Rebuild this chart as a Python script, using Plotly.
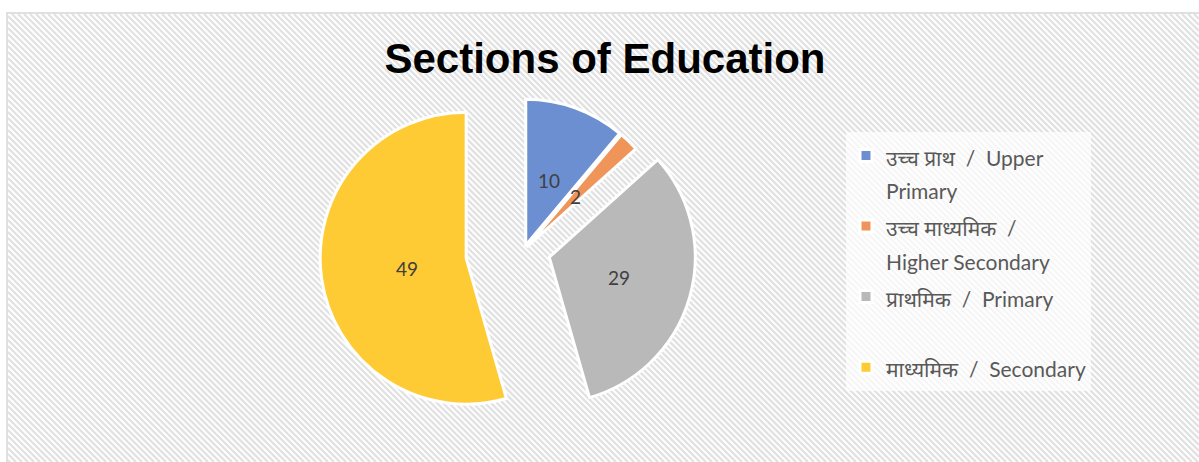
import numpy as np
import plotly.graph_objects as go

# ---- data ----
labels_hi = ["उच्च प्राथ", "उच्च माध्यमिक", "प्राथमिक", "माध्यमिक"]
labels_en = ["Upper Primary", "Higher Secondary", "Primary", "Secondary"]
values = [10, 2, 29, 49]

# ---- style ----
W, H = 1199, 462
colors = ["#6b8fd1", "#f0955a", "#b9b9b9", "#ffcb35"]
pulls = [0.035, 0.035, 0.18, 0.4]
label_radius = [0.47, 0.47, 0.50, 0.50]   # radial position of value labels (fraction of r)
cx, cy, r = 524.0, 250.0, 146.0           # pie centre / radius in pixels

# legend names, wrapped over two lines each
legend_names = [
    f"{labels_hi[0]}  /  Upper<br>Primary",
    f"{labels_hi[1]}  /<br>{labels_en[1]}",
    f"{labels_hi[2]}  /  {labels_en[2]}<br>\u00a0",
    f"{labels_hi[3]}  /  {labels_en[3]}",
]
span = '<span style="font-size:21px">'
legend_names = [span + n.replace("<br>", "</span><br>" + span) + "</span>" for n in legend_names]

# pie domain chosen so that plotly's radius = box / (2 * (1 + max pull)) equals r
box = 2 * r * (1 + max(pulls))
dom_x = [(cx - box / 2) / W, (cx + box / 2) / W]
dom_y = [1 - (cy + box / 2) / H, 1 - (cy - box / 2) / H]

fig = go.Figure()
fig.add_trace(go.Pie(
    labels=legend_names,
    values=values,
    sort=False,
    direction="clockwise",
    rotation=0,
    pull=pulls,
    marker=dict(colors=colors, line=dict(color="white", width=3)),
    textinfo="none",
    hoverinfo="label+value",
    domain=dict(x=dom_x, y=dom_y),
))

# value labels placed along each slice's mid angle
total = float(sum(values))
start = 0.0
annotations = []
for v, p, k in zip(values, pulls, label_radius):
    mid = np.deg2rad((start + v / 2) / total * 360.0)
    start += v
    dx, dy = np.sin(mid), -np.cos(mid)
    px = cx + (p + k) * r * dx
    py = cy + (p + k) * r * dy
    annotations.append(dict(
        x=px / W, y=1 - py / H, xref="paper", yref="paper",
        text=str(v), showarrow=False,
        font=dict(family="Lato, Noto Sans, sans-serif", size=19, color="#404040"),
    ))

# diagonal hatch background inside the chart frame
xa, xb, ya, yb = 8, W, 14, H
segs = []
for k in np.arange(-(yb - ya) - 400, W + 400, 6.0):
    # line x - y = k
    x0 = max(xa, ya + k)
    x1 = min(xb, yb + k)
    if x1 <= x0:
        continue
    y0, y1 = x0 - k, x1 - k
    segs.append(f"M{x0 / W:.5f},{1 - y0 / H:.5f}L{x1 / W:.5f},{1 - y1 / H:.5f}")
shapes = [
    dict(type="path", path="".join(segs), xref="paper", yref="paper",
         line=dict(color="#e2e2e2", width=2.4), layer="below"),
    dict(type="rect", xref="paper", yref="paper",
         x0=7 / W, x1=1.05, y0=-0.05, y1=1 - 13 / H,
         line=dict(color="#d6d6d6", width=1.5), layer="below"),
]

fig.update_layout(
    width=W, height=H,
    margin=dict(l=0, r=0, t=0, b=0),
    paper_bgcolor="white",
    plot_bgcolor="white",
    title=dict(
        text="<b>Sections of Education</b>",
        x=605 / W, xanchor="center", y=1 - 58 / H, yanchor="middle",
        yref="container",
        font=dict(family="Liberation Sans, Arial, sans-serif", size=42, color="#000000"),
    ),
    legend=dict(
        x=846 / W, y=1 - 132 / H, xanchor="left", yanchor="top",
        bgcolor="rgba(255,255,255,0.7)",
        font=dict(family="Lato, Noto Sans, sans-serif", size=26, color="#595959"),
        valign="top",
        traceorder="normal",
    ),
    shapes=shapes,
    annotations=annotations,
    showlegend=True,
)

fig.write_html("out.html")
